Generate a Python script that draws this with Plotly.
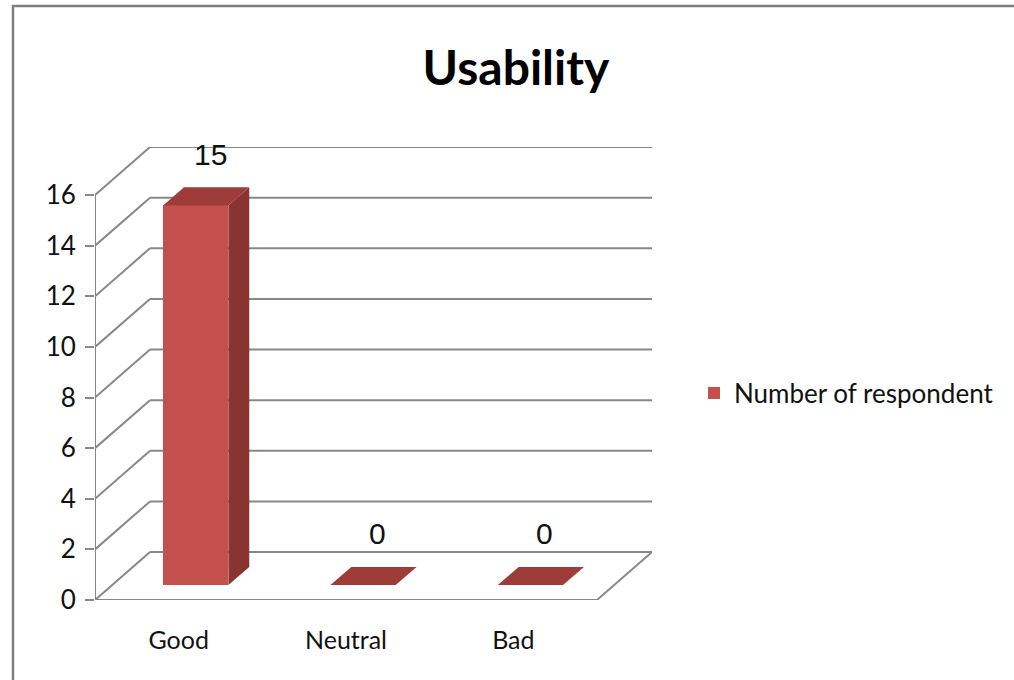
import plotly.graph_objects as go

# ---- data -------------------------------------------------------------
categories = ["Good", "Neutral", "Bad"]
respondents = [15, 0, 0]
series_name = "Number of respondent"
y_ticks = list(range(0, 17, 2))
chart_title = "Usability"

# ---- geometry / style -------------------------------------------------
W, H = 1014, 680
FRONT_L, FRONT_R = 95, 597          # px: front floor edge
Y0_PX, Y16_PX = 600, 195            # px: value 0 and value 16 on front axis
DEPTH_PX_X, DEPTH_PX_Y = 55, 48     # px: perspective depth of the box

n = len(categories)
ymax_axis = y_ticks[-1]
px_per_x = (FRONT_R - FRONT_L) / n
px_per_y = (Y0_PX - Y16_PX) / ymax_axis
DX = DEPTH_PX_X / px_per_x
DY = DEPTH_PX_Y / px_per_y

x_range = [0, n + DX]
y_range = [0, ymax_axis + DY]
plot_w = x_range[1] * px_per_x
plot_h = y_range[1] * px_per_y
m_l = FRONT_L
m_r = W - FRONT_L - plot_w
m_b = H - Y0_PX
m_t = H - m_b - plot_h

FRONT = "#C4504D"
SIDE = "#8A3431"
TOP = "#9E3C39"
GRID = "#888888"
TXT = "#111111"
FONT = "Lato"

BAR_W = 0.39          # bar width in category units
D0, D1 = 0.31, 0.69   # bar depth span as fraction of the box depth


def px2paper_x(px):
    return (px - m_l) / plot_w


def px2paper_y(py):
    return (H - m_b - py) / plot_h


fig = go.Figure()

# ---- box: side wall, back wall and floor lines -------------------------
shapes = []
line = dict(color=GRID, width=2)
for v in y_ticks:
    shapes.append(dict(type="line", xref="x", yref="y", x0=0, y0=v,
                       x1=DX, y1=v + DY, line=line, layer="below"))
    shapes.append(dict(type="line", xref="x", yref="y", x0=DX, y0=v + DY,
                       x1=n + DX, y1=v + DY, line=line, layer="below"))
# front value axis and floor edges
shapes.append(dict(type="line", xref="x", yref="y", x0=0, y0=0, x1=0,
                   y1=ymax_axis, line=line, layer="below"))
shapes.append(dict(type="line", xref="x", yref="y", x0=0, y0=0, x1=n,
                   y1=0, line=line, layer="below"))
shapes.append(dict(type="line", xref="x", yref="y", x0=n, y0=0, x1=n + DX,
                   y1=DY, line=line, layer="below"))
# category tick marks below the floor
for i in range(n + 1):
    shapes.append(dict(type="line", xref="x", yref="y", ysizemode="pixel",
                       yanchor=0, x0=i, x1=i, y0=0, y1=-7, line=line,
                       layer="below"))
# outer chart frame (left and top edges)
frame = dict(color="#7F7F7F", width=2.5)
shapes.append(dict(type="path", xref="paper", yref="paper",
                   path="M {:.5f},{:.5f} L {:.5f},{:.5f} L {:.5f},{:.5f}".format(
                       px2paper_x(13), px2paper_y(H),
                       px2paper_x(13), px2paper_y(6),
                       px2paper_x(W), px2paper_y(6)),
                   line=frame))

# ---- 3D columns ---------------------------------------------------------
centers = [i + 0.5 + D0 * DX for i in range(n)]
base0 = D0 * DY
ddx = (D1 - D0) * DX
ddy = (D1 - D0) * DY

# front faces
fig.add_trace(go.Bar(
    x=centers, y=respondents, base=[base0] * n, width=BAR_W,
    marker=dict(color=FRONT, line=dict(width=0)),
    name=series_name, showlegend=True, hoverinfo="skip",
))

annotations = []
for c, v in zip(centers, respondents):
    xl, xr = c - BAR_W / 2, c + BAR_W / 2
    top = v + base0
    # right side face
    if v > 0:
        fig.add_trace(go.Scatter(
            x=[xr, xr, xr + ddx, xr + ddx, xr],
            y=[base0, top, top + ddy, base0 + ddy, base0],
            fill="toself", fillcolor=SIDE, mode="lines",
            line=dict(width=0, color=SIDE), showlegend=False,
            hoverinfo="skip"))
    # top face
    fig.add_trace(go.Scatter(
        x=[xl, xr, xr + ddx, xl + ddx, xl],
        y=[top, top, top + ddy, top + ddy, top],
        fill="toself", fillcolor=TOP, mode="lines",
        line=dict(width=0, color=TOP), showlegend=False, hoverinfo="skip"))
    # value label
    annotations.append(dict(
        x=c + ddx / 2, y=top + ddy, xref="x", yref="y", text=str(v),
        showarrow=False, yanchor="middle", yshift=33, xshift=4,
        font=dict(family="Liberation Sans, Arial", size=30, color=TXT)))

fig.update_layout(
    width=W, height=H,
    margin=dict(l=m_l, r=m_r, t=m_t, b=m_b, pad=0),
    paper_bgcolor="white", plot_bgcolor="white",
    font=dict(family=FONT, color=TXT),
    title=dict(text="<b>" + chart_title + "</b>", xref="container",
               yref="container", x=516 / W, y=1 - 68 / H,
               xanchor="center", yanchor="middle",
               font=dict(family=FONT, size=48, color="#000000")),
    xaxis=dict(range=x_range, showgrid=False, zeroline=False,
               showline=False, tickmode="array",
               tickvals=[i + 0.5 for i in range(n)], ticktext=categories,
               ticks="", ticklabelstandoff=23,
               tickfont=dict(family=FONT, size=25, color=TXT),
               fixedrange=True),
    yaxis=dict(range=y_range, showgrid=False, zeroline=False,
               showline=False, tickmode="array", tickvals=y_ticks,
               ticks="outside", ticklen=9, tickcolor=GRID, tickwidth=2,
               ticklabelstandoff=4,
               tickfont=dict(family=FONT, size=26, color=TXT),
               fixedrange=True),
    legend=dict(xref="container", yref="container", x=694 / W,
                y=1 - 393 / H, xanchor="left", yanchor="middle",
                font=dict(family=FONT, size=26, color=TXT),
                bgcolor="rgba(0,0,0,0)", itemsizing="constant"),
    shapes=shapes,
    annotations=annotations,
    bargap=0,
    showlegend=True,
)

fig.write_html("out.html", config={"displayModeBar": False})
